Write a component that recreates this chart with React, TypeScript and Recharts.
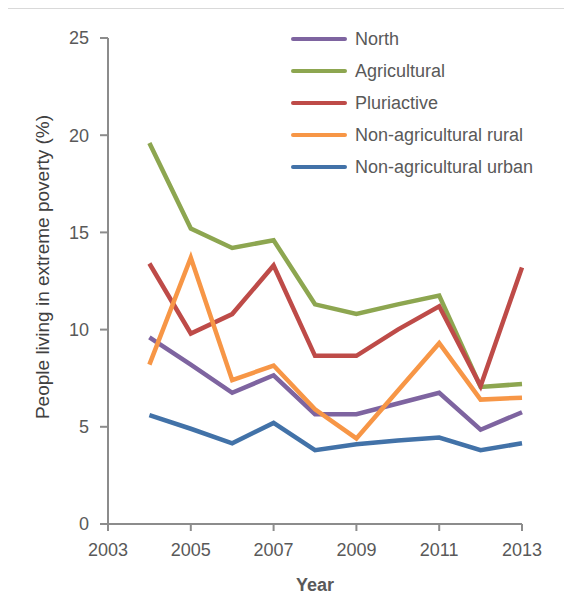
import { Legend, Line, LineChart, XAxis, YAxis } from 'recharts';

const years = [2004, 2005, 2006, 2007, 2008, 2009, 2010, 2011, 2012, 2013];
const north = [9.6, 8.2, 6.75, 7.65, 5.65, 5.65, 6.2, 6.75, 4.85, 5.75];
const agricultural = [19.6, 15.2, 14.2, 14.6, 11.3, 10.8, 11.3, 11.75, 7.05, 7.2];
const pluriactive = [13.4, 9.8, 10.8, 13.3, 8.65, 8.65, 10.0, 11.2, 7.1, 13.2];
const nonAgRural = [8.2, 13.7, 7.4, 8.15, 5.9, 4.4, 6.85, 9.3, 6.4, 6.5];
const nonAgUrban = [5.6, 4.9, 4.15, 5.2, 3.8, 4.1, 4.3, 4.45, 3.8, 4.15];

const xTicks = [2003, 2005, 2007, 2009, 2011, 2013];
const yTicks = [0, 5, 10, 15, 20, 25];

const series = [
  { key: 'north', name: 'North', color: '#7E64A0', values: north },
  { key: 'agricultural', name: 'Agricultural', color: '#8DA650', values: agricultural },
  { key: 'pluriactive', name: 'Pluriactive', color: '#BE4B48', values: pluriactive },
  { key: 'nonAgRural', name: 'Non-agricultural rural', color: '#F79646', values: nonAgRural },
  { key: 'nonAgUrban', name: 'Non-agricultural urban', color: '#4272A8', values: nonAgUrban },
];

const data = years.map((y, i) => {
  const row: Record<string, number> = { year: y };
  series.forEach((s) => {
    row[s.key] = s.values[i];
  });
  return row;
});

const FONT = '"Liberation Sans", Arial, sans-serif';
const AXIS = '#8C8C8C';

function renderLegend(props: any) {
  const order = series.map((s) => s.name);
  const payload = [...(props.payload || [])].sort((a: any, b: any) => order.indexOf(a.value) - order.indexOf(b.value));
  return (
    <div style={{ fontFamily: FONT }}>
      {payload.map((p: any) => (
        <div key={p.value} style={{ display: 'flex', alignItems: 'center', height: 32 }}>
          <div style={{ width: 56, height: 4, borderRadius: 2, background: p.color, marginRight: 8 }} />
          <span style={{ fontSize: 18, color: '#595959' }}>{p.value}</span>
        </div>
      ))}
    </div>
  );
}

export default function App() {
  return (
    <div style={{ position: 'relative', width: 572, height: 606, margin: -8, background: '#fff', overflow: 'hidden' }}>
      <div
        style={{
          position: 'absolute',
          left: 6,
          top: 7,
          right: -2,
          bottom: -2,
          borderTop: '2px solid #D9D9D9',
          borderLeft: '2px solid #D9D9D9',
        }}
      />
      <LineChart width={572} height={606} data={data} margin={{ top: 38, right: 50, left: 8, bottom: 0 }}>
        <XAxis
          dataKey="year"
          type="number"
          domain={[2003, 2013]}
          ticks={xTicks}
          interval={0}
          stroke={AXIS}
          strokeWidth={2}
          tickSize={7}
          tickMargin={12}
          height={82}
          tick={{ fontSize: 18, fill: '#595959', fontFamily: FONT }}
          label={{
            content: () => (
              <text x={315} y={591} textAnchor="middle" fontSize={18} fontWeight="bold" fill="#595959" fontFamily={FONT}>
                Year
              </text>
            ),
          }}
        />
        <YAxis
          type="number"
          domain={[0, 25]}
          ticks={yTicks}
          interval={0}
          width={100}
          stroke={AXIS}
          strokeWidth={2}
          tickSize={8}
          tickMargin={11}
          tick={{ fontSize: 18, fill: '#595959', fontFamily: FONT }}
          label={{
            content: () => (
              <text
                x={42}
                y={267}
                transform="rotate(-90 42 267)"
                textAnchor="middle"
                dominantBaseline="central"
                fontSize={19}
                fill="#404040"
                fontFamily={FONT}
              >
                People living in extreme poverty (%)
              </text>
            ),
          }}
        />
        <Legend
          layout="vertical"
          verticalAlign="middle"
          align="center"
          content={renderLegend}
          wrapperStyle={{ position: 'absolute', left: 291, top: 23, width: 280 }}
        />
        {series.map((s) => (
          <Line
            key={s.key}
            dataKey={s.key}
            name={s.name}
            stroke={s.color}
            strokeWidth={4.5}
            dot={false}
            isAnimationActive={false}
            strokeLinejoin="miter"
          />
        ))}
      </LineChart>
    </div>
  );
}
